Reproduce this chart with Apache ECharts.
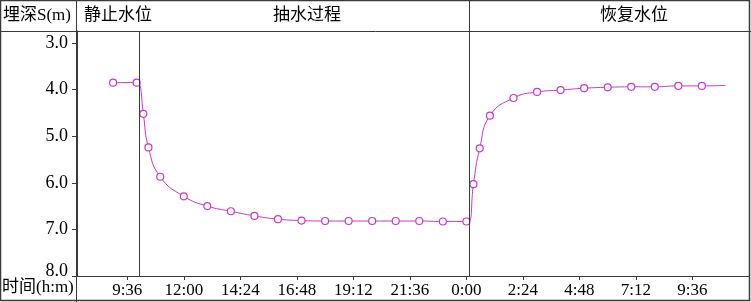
<!DOCTYPE html>
<html>
<head>
<meta charset="utf-8">
<script src="https://cdn.jsdelivr.net/npm/echarts@6/dist/echarts.min.js"></script>
<style>
html,body{margin:0;padding:0;background:#fff;}
#c{width:751px;height:302px;}
</style>
</head>
<body>
<div id="c"></div>
<script>
// ---- data (times: "hh:mm", "+1" = next day) ----
const times = ['09:00','10:00','10:06','10:17','10:30','11:00','12:00','13:00','14:00','15:00','16:00','17:00','18:00','19:00','20:00','21:00','22:00','23:00','00:00+1','00:07+1','00:18+1','00:34+1','01:00+1','02:00+1','03:00+1','04:00+1','05:00+1','06:00+1','07:00+1','08:00+1','09:00+1','10:00+1','11:00+1'];
const depth = [3.85,3.85,3.86,4.52,5.24,5.87,6.29,6.50,6.61,6.71,6.78,6.81,6.82,6.82,6.82,6.82,6.82,6.83,6.83,6.83,6.03,5.26,4.56,4.18,4.05,4.01,3.97,3.95,3.94,3.94,3.92,3.92,3.91];
const showMarker = [1,1,0,1,1,1,1,1,1,1,1,1,1,1,1,1,1,1,1,0,1,1,1,1,1,1,1,1,1,1,1,1,0];
const pumpStart = '10:07';
const pumpStop = '00:08+1';
const yTicks = [3,4,5,6,7,8];
const xTicks = ['09:36','12:00','14:24','16:48','19:12','21:36','00:00+1','02:24+1','04:48+1','07:12+1','09:36+1'];
const headerLeft = '埋深S(m)';
const headerStatic = '静止水位';
const headerPump = '抽水过程';
const headerRecover = '恢复水位';
const footerLeft = '时间(h:m)';

function toMin(s){
  let day = 0;
  if (s.endsWith('+1')) { day = 1; s = s.slice(0,-2); }
  const [h,m] = s.split(':').map(Number);
  return day*1440 + h*60 + m;
}
function fmt(v){
  const h = Math.floor(v/60)%24, m = Math.round(v%60);
  return h + ':' + (m<10?'0':'') + m;
}

const FONT = "'Liberation Serif','Noto Sans CJK SC',serif";
const LC = '#3a3a3a';
const MC = '#c838c8';

const seriesData = times.map((t,i)=>({
  value:[toMin(t), depth[i]],
  symbol: showMarker[i] ? 'circle' : 'none'
}));

const chart = echarts.init(document.getElementById('c'), null, {renderer:'canvas'});
chart.setOption({
  backgroundColor:'#fff',
  animation:false,
  grid:{left:77, right:2, top:31, bottom:26, containLabel:false},
  xAxis:{
    type:'value', min:448, max:2160,
    splitLine:{show:false},
    axisLine:{show:true, lineStyle:{color:LC, width:1}},
    axisTick:{show:true, inside:false, length:4, lineStyle:{color:LC}, customValues: xTicks.map(toMin)},
    axisLabel:{show:true, margin:6, fontSize:17, fontFamily:FONT, color:'#000',
      customValues: xTicks.map(toMin), formatter:v=>fmt(v)}
  },
  yAxis:{
    type:'value', inverse:true, min:2.742, max:8,
    splitLine:{show:false},
    axisLine:{show:true, lineStyle:{color:LC, width:1}},
    axisTick:{show:true, inside:false, length:5, lineStyle:{color:LC}, customValues: yTicks},
    axisLabel:{show:true, margin:9, fontSize:18, fontFamily:FONT, color:'#000',
      customValues: yTicks,
      formatter:v=> v===8 ? '{b|'+v.toFixed(1)+'}' : v.toFixed(1),
      rich:{b:{fontSize:18, fontFamily:FONT, color:'#000', padding:[0,0,10,0]}}}
  },
  series:[{
    type:'line',
    data:seriesData,
    smooth:0.5,
    symbolSize:7,
    showSymbol:true,
    lineStyle:{color:MC, width:1},
    itemStyle:{color:'#fff', borderColor:MC, borderWidth:1.2},
    markLine:{
      silent:true, symbol:'none', label:{show:false},
      lineStyle:{color:LC, width:1, type:'solid'},
      data:[{xAxis:toMin(pumpStart)},{xAxis:toMin(pumpStop)}]
    }
  }],
  graphic:[
    {type:'rect', shape:{x:0.5,y:0.5,width:749,height:300}, style:{fill:null, stroke:LC, lineWidth:1.5}, z:10},
    {type:'line', shape:{x1:0,y1:31.5,x2:751,y2:31.5}, style:{stroke:LC, lineWidth:1}, z:10},
    {type:'line', shape:{x1:76.5,y1:0,x2:76.5,y2:302}, style:{stroke:LC, lineWidth:1}, z:10},
    {type:'line', shape:{x1:469.5,y1:0,x2:469.5,y2:31}, style:{stroke:LC, lineWidth:1}, z:10},
    {type:'text', left:3, top:7, style:{text:headerLeft, font:"17px "+FONT, fill:'#000'}},
    {type:'text', left:84, top:7, style:{text:headerStatic, font:"17px "+FONT, fill:'#000'}},
    {type:'text', left:273, top:7, style:{text:headerPump, font:"17px "+FONT, fill:'#000'}},
    {type:'text', left:600, top:7, style:{text:headerRecover, font:"17px "+FONT, fill:'#000'}},
    {type:'text', left:2, top:279, style:{text:footerLeft, font:"17px "+FONT, fill:'#000'}}
  ]
});
</script>
</body>
</html>
